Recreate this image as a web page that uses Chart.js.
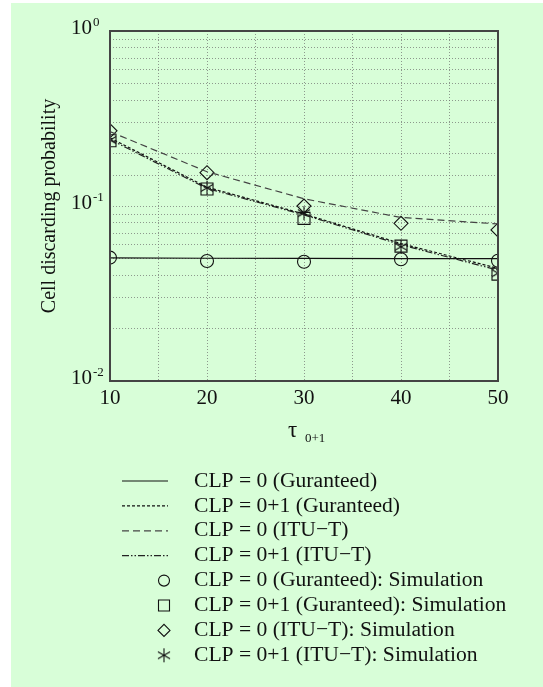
<!DOCTYPE html>
<html>
<head>
<meta charset="utf-8">
<title>Cell discarding probability</title>
<script src="https://cdn.jsdelivr.net/npm/chart.js@4.4.0/dist/chart.umd.min.js"></script>
<style>
    html, body { margin: 0; padding: 0; background: #fff; }
    #wrap { position: absolute; left: 11px; top: 3px; width: 532px; height: 684px; background: #d8fed8; }
    canvas { display: block; }
</style>
</head>
<body>
<div id="wrap"><canvas id="cdpChart" width="532" height="684"></canvas></div>
<script>
// tau 0+1 values (x axis)
const taus = [10, 20, 30, 40, 50];
// analytic curves
const guar0Line = [0.0505, 0.0503, 0.0502, 0.0501, 0.0500];
const guar01Line = [0.245, 0.128, 0.090, 0.061, 0.044];
const itu0Line = [0.266, 0.157, 0.110, 0.086, 0.079];
const itu01Line = [0.240, 0.126, 0.089, 0.060, 0.043];
// simulation points
const guar0Sim = [0.0507, 0.0485, 0.0480, 0.0496, 0.0487];
const guar01Sim = [0.236, 0.125, 0.085, 0.059, 0.0408];
const itu0Sim = [0.269, 0.155, 0.100, 0.0796, 0.073];
const itu01Sim = [0.238, 0.127, 0.091, 0.0585, 0.0413];
// y tick labels (log decades)
const yDecades = [1, 0.1, 0.01];
const yExponents = ['0', '-1', '-2'];

const serif = '"Liberation Serif", "DejaVu Serif", serif';

// asterisk marker (6 arms)
function makeStar(r) {
    const c = document.createElement('canvas');
    c.width = c.height = 2 * r + 2;
    const g = c.getContext('2d');
    g.strokeStyle = '#111';
    g.lineWidth = 1.1;
    const m = r + 1;
    for (let k = 0; k < 3; k++) {
        const a = Math.PI / 2 + k * Math.PI / 3;
        g.beginPath();
        g.moveTo(m - r * Math.cos(a), m - r * Math.sin(a));
        g.lineTo(m + r * Math.cos(a), m + r * Math.sin(a));
        g.stroke();
    }
    return c;
}
const starImg = makeStar(7);

function pts(vals) {
    return taus.map((t, i) => ({ x: t, y: vals[i] }));
}

function lineSet(label, vals, dash, color) {
    return {
        label: label,
        data: pts(vals),
        borderColor: color,
        borderWidth: 1.2,
        borderDash: dash,
        pointRadius: 0,
        fill: false,
        tension: 0
    };
}

function simSet(label, vals, style, radius) {
    return {
        label: label,
        data: pts(vals),
        showLine: false,
        pointStyle: style,
        pointRadius: radius,
        pointHoverRadius: radius,
        pointBorderColor: '#111',
        pointBackgroundColor: 'rgba(0,0,0,0)',
        pointBorderWidth: 1.1
    };
}

// draw a legend marker by hand
function drawMarker(ctx, style, x, y) {
    ctx.save();
    ctx.strokeStyle = '#111';
    ctx.lineWidth = 1.1;
    ctx.setLineDash([]);
    ctx.beginPath();
    if (style === 'circle') {
        ctx.arc(x, y, 5.5, 0, Math.PI * 2);
    } else if (style === 'rect') {
        ctx.rect(x - 5.5, y - 5.5, 11, 11);
    } else if (style === 'rectRot') {
        ctx.moveTo(x - 6, y); ctx.lineTo(x, y - 6); ctx.lineTo(x + 6, y); ctx.lineTo(x, y + 6); ctx.closePath();
    } else {
        ctx.drawImage(style, x - style.width / 2, y - style.height / 2);
    }
    ctx.stroke();
    ctx.restore();
}

const decorPlugin = {
    id: 'decor',
    afterDraw(chart) {
        const ctx = chart.ctx;
        const area = chart.chartArea;
        const ys = chart.scales.y;
        ctx.save();

        // frame
        ctx.strokeStyle = '#444';
        ctx.lineWidth = 2;
        ctx.setLineDash([]);
        ctx.strokeRect(area.left, area.top, area.right - area.left, area.bottom - area.top);

        // y tick labels with superscripts
        ctx.fillStyle = '#111';
        yDecades.forEach((v, i) => {
            const py = ys.getPixelForValue(v);
            ctx.font = '21px ' + serif;
            ctx.textAlign = 'right';
            ctx.textBaseline = 'middle';
            ctx.fillText('10', 81, py - 2.5);
            ctx.font = '13px ' + serif;
            ctx.textAlign = 'left';
            ctx.fillText(yExponents[i], 82, py - 8);
        });

        // y title
        ctx.save();
        ctx.translate(39, (area.top + area.bottom) / 2);
        ctx.rotate(-Math.PI / 2);
        ctx.font = '20px ' + serif;
        ctx.textAlign = 'center';
        ctx.textBaseline = 'middle';
        ctx.fillText('Cell discarding probability', 0, 0);
        ctx.restore();

        // x title: tau with subscript
        ctx.textAlign = 'left';
        ctx.textBaseline = 'alphabetic';
        ctx.font = '23px ' + serif;
        ctx.fillText('\u03c4', 277, 434);
        ctx.font = '13px ' + serif;
        ctx.fillText('0+1', 294, 439);

        // legend
        const rowTop = 478, rowStep = 24.9;
        chart.data.datasets.forEach((ds, i) => {
            const ry = rowTop + i * rowStep;
            if (ds.showLine === false) {
                drawMarker(ctx, ds.pointStyle, 153, ry);
            } else {
                ctx.save();
                ctx.strokeStyle = ds.borderColor;
                ctx.lineWidth = ds.borderWidth;
                ctx.setLineDash(ds.borderDash || []);
                ctx.beginPath();
                ctx.moveTo(111, ry);
                ctx.lineTo(157, ry);
                ctx.stroke();
                ctx.restore();
            }
            ctx.fillStyle = '#111';
            ctx.font = '21.6px ' + serif;
            ctx.textAlign = 'left';
            ctx.textBaseline = 'middle';
            ctx.fillText(ds.label, 183, ry);
        });
        ctx.restore();
    }
};

const gridStyle = {
    color: 'rgba(110,110,110,0.7)',
    lineWidth: 1,
    drawTicks: false
};

const cdpChart = new Chart(document.getElementById('cdpChart').getContext('2d'), {
    type: 'line',
    data: {
        datasets: [
            lineSet('CLP = 0 (Guranteed)', guar0Line, [], '#111'),
            lineSet('CLP = 0+1 (Guranteed)', guar01Line, [3, 2], '#111'),
            lineSet('CLP = 0 (ITU\u2212T)', itu0Line, [7, 4], '#444'),
            lineSet('CLP = 0+1 (ITU\u2212T)', itu01Line, [7, 2, 1.5, 2, 1.5, 2], '#222'),
            simSet('CLP = 0 (Guranteed): Simulation', guar0Sim, 'circle', 6.5),
            simSet('CLP = 0+1 (Guranteed): Simulation', guar01Sim, 'rect', 8.5),
            simSet('CLP = 0 (ITU\u2212T): Simulation', itu0Sim, 'rectRot', 7),
            simSet('CLP = 0+1 (ITU\u2212T): Simulation', itu01Sim, starImg, 7)
        ]
    },
    options: {
        responsive: false,
        animation: false,
        layout: { padding: { left: 99, right: 45, top: 28, bottom: 276 } },
        plugins: {
            legend: { display: false },
            tooltip: { enabled: false }
        },
        scales: {
            x: {
                type: 'linear',
                min: 10,
                max: 50,
                border: { display: false, dash: [1, 2] },
                grid: gridStyle,
                ticks: {
                    stepSize: 5,
                    autoSkip: false,
                    maxRotation: 0,
                    padding: 5,
                    color: '#111',
                    font: { family: serif, size: 21 },
                    callback: v => (v % 10 === 0 ? String(v) : '')
                },
                afterFit: s => { s.height = 30; }
            },
            y: {
                type: 'logarithmic',
                min: 0.01,
                max: 1,
                border: { display: false, dash: [1, 2] },
                grid: gridStyle,
                ticks: { display: false },
                afterFit: s => { s.width = 0; }
            }
        }
    },
    plugins: [decorPlugin]
});
</script>
</body>
</html>
